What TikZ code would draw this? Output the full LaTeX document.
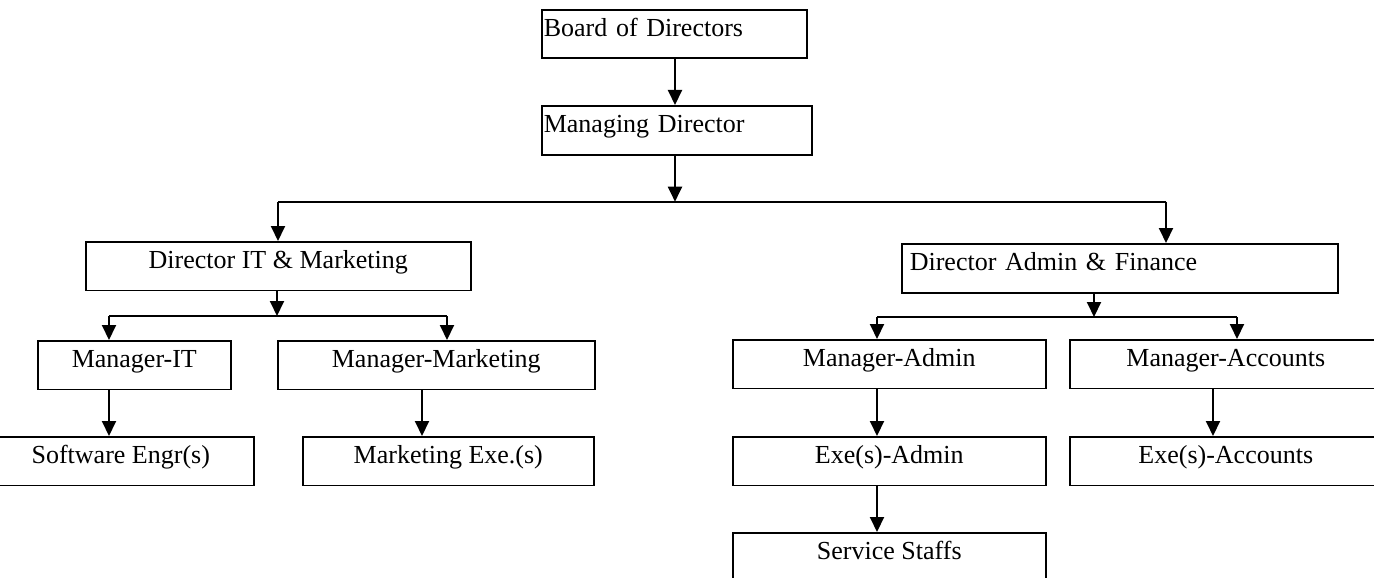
\documentclass[tikz,border=0pt]{standalone}
\usepackage{fontspec}
\setmainfont{Liberation Serif}
\usetikzlibrary{arrows.meta}
\tikzset{
  box/.style={draw, line width=1.6pt, inner xsep=0pt, inner ysep=0pt,
    text height=26.5pt, text depth=22pt, anchor=north west,
    font=\fontsize{26}{30}\selectfont},
  lbox/.style={box, align=left, inner xsep=2pt},
  conn/.style={line width=2pt},
  arr/.style={line width=2pt, -{Triangle[width=14pt,length=15pt]}},
}
\begin{document}
\begin{tikzpicture}[x=1pt,y=-1pt]
\useasboundingbox (0,0) rectangle (1374,578);
% boxes
\node[lbox, text width=261pt, minimum width=265pt] (bod) at (541,9) {Board of Directors};
\node[lbox, text width=266pt, minimum width=270pt, text depth=22.5pt] (md) at (541,105) {Managing Director};
\node[box, minimum width=385pt] (dit) at (85,241) {Director IT \& Marketing};
\node[lbox, text width=420pt, minimum width=432pt, inner xsep=8pt, text depth=22.5pt] (daf) at (901,243) {Director Admin \& Finance};
\node[box, minimum width=193pt] (mit) at (37,340) {Manager-IT};
\node[box, minimum width=317pt] (mmk) at (277,340) {Manager-Marketing};
\node[box, minimum width=266pt] (se) at (-13,436) {Software Engr(s)};
\node[box, minimum width=291pt] (me) at (302,436) {Marketing Exe.(s)};
\node[box, minimum width=313pt] (madm) at (732,339) {Manager-Admin};
\node[box, minimum width=312pt] (macc) at (1069,339) {Manager-Accounts};
\node[box, minimum width=313pt] (eadm) at (732,436) {Exe(s)-Admin};
\node[box, minimum width=312pt] (eacc) at (1069,436) {Exe(s)-Accounts};
\node[box, minimum width=313pt] (ss) at (732,532) {Service Staffs};
% junction coordinates
\coordinate (bt) at (675,201.7);
\coordinate (btL) at (278,201.7);
\coordinate (btR) at (1166,201.7);
\coordinate (b2) at (277,316);
\coordinate (b2L) at (109,316);
\coordinate (b2R) at (447,316);
\coordinate (b3) at (1094,317);
\coordinate (b3L) at (877,317);
\coordinate (b3R) at (1237,317);
\coordinate (xM) at (422,0);
\coordinate (xA) at (1213,0);
% connectors
\draw[arr] (bod.south -| bt) -- (md.north -| bt);
\draw[arr] (md.south -| bt) -- (bt);
\draw[conn] (btL) -- (btR);
\draw[arr] (btL) -- (btL |- dit.north);
\draw[arr] (btR) -- (btR |- daf.north);
\draw[arr] (dit.south -| b2) -- (b2);
\draw[conn] (b2L) -- (b2R);
\draw[arr] (b2L) -- (b2L |- mit.north);
\draw[arr] (b2R) -- (b2R |- mmk.north);
\draw[arr] (mit.south -| b2L) -- (se.north -| b2L);
\draw[arr] (mmk.south -| xM) -- (me.north -| xM);
\draw[arr] (daf.south -| b3) -- (b3);
\draw[conn] (b3L) -- (b3R);
\draw[arr] (b3L) -- (b3L |- madm.north);
\draw[arr] (b3R) -- (b3R |- macc.north);
\draw[arr] (madm.south -| b3L) -- (eadm.north -| b3L);
\draw[arr] (macc.south -| xA) -- (eacc.north -| xA);
\draw[arr] (eadm.south -| b3L) -- (ss.north -| b3L);
\end{tikzpicture}
\end{document}
